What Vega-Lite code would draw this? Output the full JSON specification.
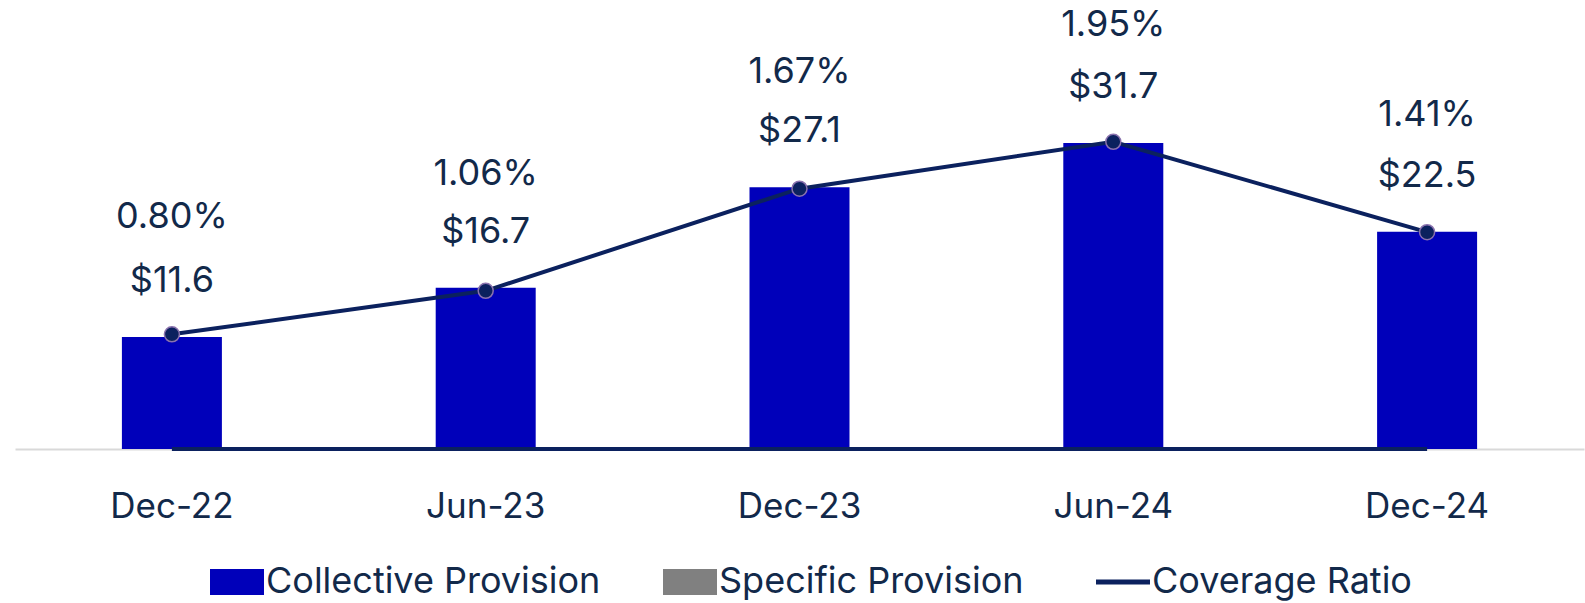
{
  "$schema": "https://vega.github.io/schema/vega-lite/v6.json",
  "width": 1569,
  "height": 449,
  "autosize": {"type": "none"},
  "padding": {"left": 15, "top": 0, "right": 1, "bottom": 154},
  "config": {"font": "Inter", "view": {"stroke": null}},
  "data": {
    "values": [
      {"period": "Dec-22", "collective": 11.6, "specific": 0, "ratio": 0.0080},
      {"period": "Jun-23", "collective": 16.7, "specific": 0, "ratio": 0.0106},
      {"period": "Dec-23", "collective": 27.1, "specific": 0, "ratio": 0.0167},
      {"period": "Jun-24", "collective": 31.7, "specific": 0, "ratio": 0.0195},
      {"period": "Dec-24", "collective": 22.5, "specific": 0, "ratio": 0.0141}
    ]
  },
  "encoding": {
    "x": {
      "field": "period",
      "type": "ordinal",
      "sort": null,
      "scale": {"paddingInner": 0, "paddingOuter": 0},
      "axis": {
        "title": null,
        "labelAngle": 0,
        "ticks": false,
        "labelFontSize": 35,
        "labelColor": "#12294A",
        "labelPadding": 40,
        "domainColor": "#D9D9D9",
        "domainWidth": 2
      }
    }
  },
  "layer": [
    {
      "layer": [
        {
          "transform": [{"fold": ["collective", "specific"], "as": ["series", "amount"]}],
          "mark": {"type": "bar", "size": 100},
          "encoding": {
            "y": {"field": "amount", "type": "quantitative", "stack": "zero", "scale": {"domain": [0, 46.5], "nice": false}, "axis": null},
            "color": {
              "field": "series",
              "type": "nominal",
              "scale": {"domain": ["collective", "specific", "coverage"], "range": ["#0000BA", "#808080", "#0B215E"]},
              "legend": {
                "title": null,
                "orient": "none",
                "legendX": 204,
                "legendY": 564,
                "direction": "horizontal",
                "labelExpr": "datum.value == 'collective' ? 'Collective Provision' : datum.value == 'specific' ? 'Specific Provision' : 'Coverage Ratio'",
                "symbolSize": 2916,
                "labelFontSize": 36,
                "labelLimit": 0,
                "labelColor": "#12294A",
                "labelOffset": 11,
                "columnPadding": 62,
                "encode": {
                  "symbols": {
                    "update": {
                      "shape": {"signal": "datum.value == 'coverage' ? 'stroke' : 'M-1,-0.48H1V0.48H-1Z'"},
                      "fill": {"signal": "datum.value == 'coverage' ? 'transparent' : scale('color', datum.value)"},
                      "stroke": {"signal": "datum.value == 'coverage' ? scale('color', datum.value) : 'transparent'"},
                      "strokeWidth": {"signal": "datum.value == 'coverage' ? 5 : 0"},
                      "opacity": {"value": 1}
                    }
                  }
                }
              }
            }
          }
        },
        {
          "mark": {"type": "line", "color": "#0B215E", "strokeWidth": 4},
          "encoding": {"y": {"field": "specific", "type": "quantitative"}}
        },
        {
          "mark": {"type": "text", "dy": -45, "baseline": "alphabetic", "fontSize": 36, "color": "#12294A"},
          "encoding": {
            "y": {"field": "collective", "type": "quantitative"},
            "text": {"field": "collective", "format": "$.1f"}
          }
        }
      ]
    },
    {
      "layer": [
        {
          "mark": {"type": "line", "strokeWidth": 4},
          "encoding": {
            "y": {"field": "ratio", "type": "quantitative", "scale": {"domain": [0.00115, 0.02797], "nice": false, "zero": false}, "axis": null},
            "color": {"datum": "coverage"}
          }
        },
        {
          "mark": {"type": "point", "filled": true, "shape": "circle", "size": 225, "fill": "#0B215E", "stroke": "#8A72AE", "strokeWidth": 1.5, "opacity": 1},
          "encoding": {"y": {"field": "ratio", "type": "quantitative"}}
        },
        {
          "mark": {"type": "text", "dy": -106, "baseline": "alphabetic", "fontSize": 36, "color": "#12294A"},
          "encoding": {
            "y": {"field": "ratio", "type": "quantitative"},
            "text": {"field": "ratio", "format": ".2%"}
          }
        }
      ]
    }
  ],
  "resolve": {"scale": {"y": "independent"}}
}
